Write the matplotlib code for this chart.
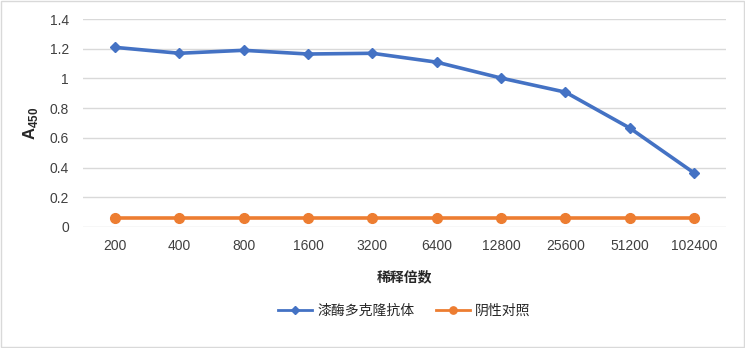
import numpy as np
import matplotlib.pyplot as plt
from matplotlib.patches import Rectangle

plt.rcParams['font.family'] = ['Liberation Sans', 'Noto Sans CJK SC', 'DejaVu Sans']
plt.rcParams['mathtext.fontset'] = 'custom'
plt.rcParams['mathtext.rm'] = 'Liberation Sans'
plt.rcParams['mathtext.bf'] = 'Liberation Sans:bold'

dilutions = ['200', '400', '800', '1600', '3200', '6400', '12800', '25600', '51200', '102400']
antibody = [1.21, 1.17, 1.19, 1.165, 1.17, 1.11, 1.003, 0.908, 0.666, 0.363]
negative = [0.06, 0.06, 0.06, 0.06, 0.06, 0.06, 0.06, 0.06, 0.06, 0.06]

fig = plt.figure(figsize=(7.45, 3.48), dpi=100)
ax = fig.add_axes([0.111, 0.348, 0.864, 0.597])

x = np.arange(len(dilutions))
ax.plot(x, antibody, color='#4472C4', lw=2.6, marker='D', ms=5, label='漆酶多克隆抗体')
ax.plot(x, negative, color='#ED7D31', lw=2.6, marker='o', ms=7, label='阴性对照')

ax.set_xlim(-0.5, len(dilutions) - 0.5)
ax.set_ylim(0, 1.4)
ax.set_yticks(np.arange(0, 1.41, 0.2))
ax.set_yticklabels(['0', '0.2', '0.4', '0.6', '0.8', '1', '1.2', '1.4'])
ax.set_xticks(x)
ax.set_xticklabels(dilutions)
ax.tick_params(length=0, labelsize=10, colors='#404040', pad=9)
ax.tick_params(axis='y', pad=10)
ax.grid(axis='y', color='#D9D9D9', lw=1)
ax.set_axisbelow(True)
for s in ax.spines.values():
    s.set_visible(False)

ax.set_ylabel(r'$\mathbf{A}_{\mathbf{450}}$', fontsize=12, color='#262626', labelpad=7)
ax.set_xlabel('稀释倍数', fontsize=10, fontweight='bold', color='#262626',
              family=['Noto Sans CJK SC', 'DejaVu Sans'], labelpad=12)

leg = ax.legend(loc='upper center', bbox_to_anchor=(0.5, -0.31), ncol=2, frameon=False,
                prop={'family': ['Noto Sans CJK SC', 'DejaVu Sans'], 'size': 10},
                handlelength=2.4, handletextpad=0.4, columnspacing=1.6, markerscale=0.75)
for t in leg.get_texts():
    t.set_color('#262626')
for h in leg.get_lines():
    h.set_linewidth(2)

fig.patches.append(Rectangle((0.001, 0.002), 0.997, 0.995, transform=fig.transFigure,
                             fill=False, edgecolor='#D9D9D9', lw=1))

fig.savefig('out.png', dpi=100)
